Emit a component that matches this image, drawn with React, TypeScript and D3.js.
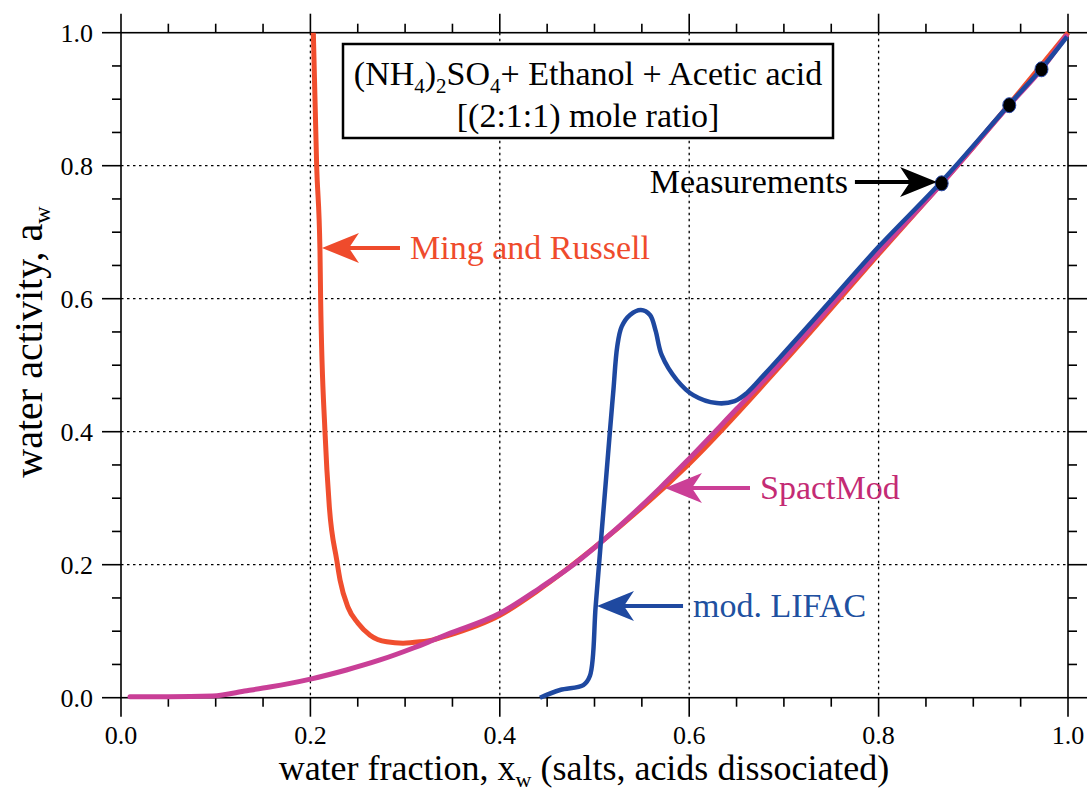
import React from 'react'
import * as d3 from 'd3'

// water fraction x_w vs water activity a_w
const mingRussell: [number, number][] = [
  [0.2031, 1.0], [0.2066, 0.8], [0.2101, 0.673], [0.2108, 0.6], [0.2154, 0.4],
  [0.22, 0.287], [0.2278, 0.207], [0.2313, 0.177], [0.2397, 0.136], [0.2503, 0.112],
  [0.263, 0.094], [0.2806, 0.084], [0.2978, 0.082], [0.3157, 0.084], [0.3295, 0.087],
  [0.344, 0.093], [0.4, 0.124], [0.44, 0.161], [0.5, 0.226], [0.6, 0.352],
  [0.7, 0.505], [0.8, 0.667], [0.9, 0.828], [1.0, 1.0],
]

const spactMod: [number, number][] = [
  [0.0095, 0.0015], [0.05, 0.0015], [0.097, 0.0026], [0.1327, 0.0105], [0.157, 0.016],
  [0.2, 0.028], [0.238, 0.0417], [0.2735, 0.0567], [0.3087, 0.0747], [0.326, 0.0845],
  [0.344, 0.095], [0.4002, 0.127], [0.4424, 0.165], [0.474, 0.196], [0.5037, 0.23],
  [0.569, 0.315], [0.597, 0.355], [0.65, 0.434], [0.696, 0.503], [0.75, 0.59],
  [0.8, 0.67], [0.867, 0.774], [0.938, 0.891], [0.972, 0.945], [0.998, 0.995],
]

const modLifac: [number, number][] = [
  [0.4424, 0.0], [0.4636, 0.0116], [0.4882, 0.019], [0.4952, 0.033], [0.5012, 0.137],
  [0.5063, 0.227], [0.5115, 0.317], [0.5164, 0.4026], [0.52, 0.463], [0.524, 0.528],
  [0.5287, 0.558], [0.5375, 0.5755], [0.549, 0.583], [0.5586, 0.5755], [0.5645, 0.552],
  [0.571, 0.515], [0.5868, 0.478], [0.6043, 0.455], [0.629, 0.443], [0.648, 0.446],
  [0.6607, 0.458], [0.68, 0.487], [0.696, 0.512], [0.75, 0.598], [0.8, 0.678],
  [0.867, 0.777], [0.938, 0.892], [0.972, 0.946], [0.999, 0.994],
]

const measurements: [number, number][] = [
  [0.8666, 0.7735], [0.938, 0.891], [0.972, 0.945],
]

const majorTicks = [0, 0.2, 0.4, 0.6, 0.8, 1.0]
const tickLabels = ['0.0', '0.2', '0.4', '0.6', '0.8', '1.0']
const gridTicks = [0.2, 0.4, 0.6, 0.8]

// arrow annotations: tip, tail (x in data units), y in data units, label
const annotations = [
  { label: 'Measurements', tipX: 0.8617, tailX: 0.775, y: 0.7755, textX: 0.7677, dir: 'right', color: '#000000', textColor: '#000000' },
  { label: 'Ming and Russell', tipX: 0.2122, tailX: 0.2946, y: 0.6763, textX: 0.3052, dir: 'left', color: '#ef4b2c', textColor: '#ef4b2c' },
  { label: 'SpactMod', tipX: 0.5744, tailX: 0.6642, y: 0.3154, textX: 0.6748, dir: 'left', color: '#cb3f96', textColor: '#c42b74' },
  { label: 'mod. LIFAC', tipX: 0.5026, tailX: 0.5935, y: 0.1379, textX: 0.604, dir: 'left', color: '#1f49a0', textColor: '#2050a0' },
]

const W = 1090
const H = 796
const left = 121
const right = 1068
const top = 32.7
const bottom = 697.7

const x = d3.scaleLinear().domain([0, 1]).range([left, right])
const y = d3.scaleLinear().domain([0, 1]).range([bottom, top])

const line = d3.line<[number, number]>()
  .x(d => x(d[0]))
  .y(d => y(d[1]))
  .curve(d3.curveMonotoneX)

const blueLine = d3.line<[number, number]>()
  .x(d => x(d[0]))
  .y(d => y(d[1]))
  .curve(d3.curveCatmullRom.alpha(0.5))

const font = '"Liberation Serif", "Times New Roman", serif'

const App = () => {
  const minor = d3.range(0, 1.0001, 0.05)
  const arrowHead = (tipPx: number, tipPy: number, dir: string) => {
    const s = dir === 'left' ? 1 : -1
    return `M${tipPx},${tipPy} L${tipPx + s * 37},${tipPy - 15} L${tipPx + s * 27},${tipPy} L${tipPx + s * 37},${tipPy + 15} Z`
  }

  return (
    <svg width={W} height={H} style={{ position: 'absolute', left: 0, top: 0, background: '#fff' }} fontFamily={font}>
      {/* grid */}
      {gridTicks.map(t => (
        <g key={'g' + t} stroke="#000" strokeWidth={1.3} strokeDasharray="2.5,3.5">
          <line x1={x(t)} x2={x(t)} y1={top} y2={bottom} />
          <line x1={left} x2={right} y1={y(t)} y2={y(t)} />
        </g>
      ))}

      {/* frame */}
      <rect x={left} y={top} width={right - left} height={bottom - top} fill="none" stroke="#000" strokeWidth={1.6} />

      {/* ticks on all sides, outward */}
      {minor.map(t => {
        const major = majorTicks.some(m => Math.abs(m - t) < 1e-6)
        const len = major ? 19 : 9
        return (
          <g key={'t' + t} stroke="#000" strokeWidth={1.6}>
            <line x1={x(t)} x2={x(t)} y1={bottom} y2={bottom + len} />
            <line x1={x(t)} x2={x(t)} y1={top} y2={top - len} />
            <line x1={left} x2={left - len} y1={y(t)} y2={y(t)} />
            <line x1={right} x2={right + len} y1={y(t)} y2={y(t)} />
          </g>
        )
      })}

      {/* tick labels */}
      {majorTicks.map((t, i) => (
        <text key={'xl' + t} x={x(t)} y={bottom + 46} fontSize={26} textAnchor="middle">{tickLabels[i]}</text>
      ))}
      {majorTicks.map((t, i) => (
        <text key={'yl' + t} x={left - 28} y={y(t) + 9} fontSize={26} textAnchor="end">{tickLabels[i]}</text>
      ))}

      {/* axis titles */}
      <text x={584} y={780} fontSize={36} textAnchor="middle">
        water fraction, x<tspan fontSize={22} dy={7}>w</tspan><tspan dy={-7}> (salts, acids dissociated)</tspan>
      </text>
      <text transform={`translate(42,342) rotate(-90)`} fontSize={40} textAnchor="middle">
        water activity, a<tspan fontSize={24} dy={8}>w</tspan>
      </text>

      {/* curves */}
      <path d={line(mingRussell) ?? ''} fill="none" stroke="#f04e2e" strokeWidth={5} strokeLinejoin="round" />
      <path d={line(spactMod) ?? ''} fill="none" stroke="#c93f97" strokeWidth={5} strokeLinejoin="round" strokeLinecap="round" />
      <path d={blueLine(modLifac) ?? ''} fill="none" stroke="#1e48a0" strokeWidth={4.5} strokeLinejoin="round" />

      {measurements.map(d => (
        <ellipse key={'m' + d[0]} cx={x(d[0])} cy={y(d[1])} rx={6.5} ry={7.5} fill="#000" stroke="#2a4aa8" strokeWidth={1} />
      ))}

      {/* title box */}
      <rect x={343} y={44} width={490} height={94} fill="#fff" stroke="#000" strokeWidth={2.5} />
      <text x={588} y={85} fontSize={34} textAnchor="middle">
        (NH<tspan fontSize={21} dy={8}>4</tspan><tspan dy={-8}>)</tspan><tspan fontSize={21} dy={8}>2</tspan><tspan dy={-8}>SO</tspan><tspan fontSize={21} dy={8}>4</tspan><tspan dy={-8}>+ Ethanol + Acetic acid</tspan>
      </text>
      <text x={588} y={127} fontSize={34} textAnchor="middle">[(2:1:1) mole ratio]</text>

      {/* annotations */}
      {annotations.map(a => {
        const ty = y(a.y)
        const tip = x(a.tipX)
        const tail = x(a.tailX)
        const notch = a.dir === 'left' ? tip + 27 : tip - 27
        return (
          <g key={a.label}>
            <line x1={tail} x2={notch} y1={ty} y2={ty} stroke={a.color} strokeWidth={4} />
            <path d={arrowHead(tip, ty, a.dir)} fill={a.color} />
            <text x={x(a.textX)} y={ty + 11} fontSize={34} fill={a.textColor} textAnchor={a.dir === 'left' ? 'start' : 'end'}>{a.label}</text>
          </g>
        )
      })}
    </svg>
  )
}

export default App
